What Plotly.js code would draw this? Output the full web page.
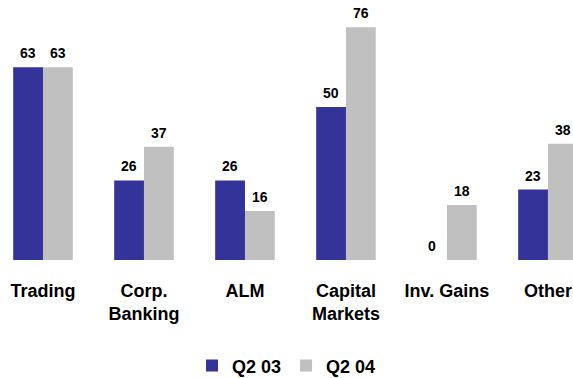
<!DOCTYPE html>
<html>
<head>
<meta charset="utf-8">
<script src="https://cdn.plot.ly/plotly-3.0.1.min.js"></script>
<style>html,body{margin:0;padding:0;background:#fff;}#chart{width:573px;height:378px;}</style>
</head>
<body>
<div id="chart"></div>
<script>
var categories = ["Trading", "Corp.<br>Banking", "ALM", "Capital<br>Markets", "Inv. Gains", "Other"];
var seriesNames = ["Q2 03", "Q2 04"];
var q203 = [63, 26, 26, 50, 0, 23];
var q204 = [63, 37, 16, 76, 18, 38];

var FONT = "Arial, 'Liberation Sans', sans-serif";
var labelFont = {family: FONT, size: 14, color: "#000", weight: "bold"};

var traces = [
  {type: "bar", name: seriesNames[0], x: categories, y: q203,
   marker: {color: "#333399"}, hoverinfo: "none"},
  {type: "bar", name: seriesNames[1], x: categories, y: q204,
   marker: {color: "#C0C0C0"}, hoverinfo: "none"}
];

// value labels, placed at each bar's value through the axes
var annotations = [];
[q203, q204].forEach(function (series, s) {
  series.forEach(function (v, i) {
    annotations.push({
      x: categories[i], y: v, xref: "x", yref: "y",
      text: String(v), showarrow: false, font: labelFont,
      xanchor: "center", yanchor: "bottom",
      xshift: s === 0 ? -15 : 15, yshift: 4
    });
  });
});

var layout = {
  width: 573, height: 378,
  margin: {l: 0, r: 0, t: 20, b: 118},
  paper_bgcolor: "#fff", plot_bgcolor: "#fff",
  barmode: "group", bargap: 0.41, bargroupgap: 0,
  showlegend: true,
  legend: {orientation: "h", x: 0.5, xanchor: "center", y: 0.032, yref: "container", yanchor: "middle",
           font: {family: FONT, size: 18, color: "#000", weight: "bold"}, itemwidth: 30, tracegroupgap: 0},
  annotations: annotations,
  xaxis: {type: "category", range: [-0.4257, 5.248], showgrid: false, zeroline: false, showline: false,
          ticks: "", ticklabelstandoff: 18,
          tickfont: {family: FONT, size: 18, color: "#000", weight: "bold"}, fixedrange: true},
  yaxis: {range: [0, 78.4], showgrid: false, zeroline: false, showline: false, showticklabels: false, ticks: "", fixedrange: true},
  font: {family: FONT}
};

Plotly.newPlot("chart", traces, layout, {displayModeBar: false, staticPlot: true});
</script>
</body>
</html>
